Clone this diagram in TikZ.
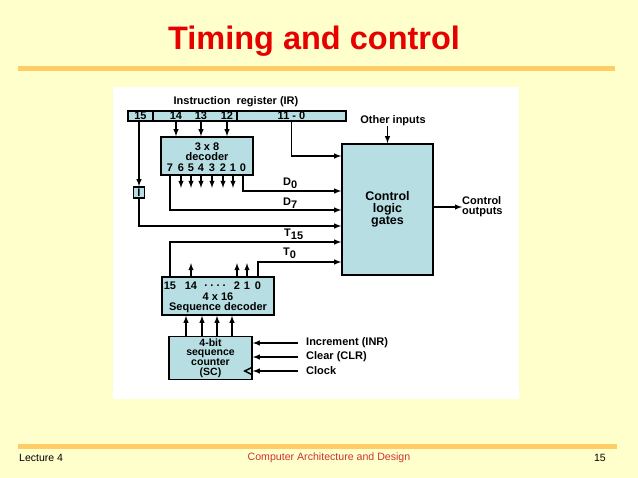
\documentclass[tikz,border=0pt]{standalone}
\usepackage{fontspec}
\setmainfont{Liberation Sans}
\usetikzlibrary{positioning,arrows}
\definecolor{slideYellow}{RGB}{255,255,204}
\definecolor{barOrange}{RGB}{255,204,102}
\definecolor{boxBlue}{RGB}{183,223,227}
\definecolor{titleRed}{RGB}{230,0,0}
\definecolor{footRed}{RGB}{204,51,51}

\begin{document}
\begin{tikzpicture}[x=1pt,y=-1pt,>=latex,
    blk/.style={draw,line width=1.6pt,fill=boxBlue,inner sep=0pt},
    txt/.style={font=\bfseries\fontsize{11}{10.3}\selectfont,inner sep=0pt,align=center},
    wire/.style={line width=1.4pt}]
    \useasboundingbox[fill=slideYellow] (0,0) rectangle (638,478);
    \fill[white] (113,87) rectangle (519,399);

    % slide title and footer
    \node[font=\bfseries\fontsize{32.5}{32}\selectfont,text=titleRed] (title) at (314,41) {Timing and control};
    \draw[barOrange,line width=5pt] (18,69) -- (615,69);
    \draw[barOrange,line width=5pt] (18,447) -- (617,447);
    \node[anchor=west,font=\fontsize{10.5}{10}\selectfont,inner sep=0pt] (lecture) at (19,458) {Lecture 4};
    \node[font=\fontsize{10.6}{10}\selectfont,text=footRed,inner sep=0pt] (course) at (329,458) {Computer Architecture and Design};
    \node[anchor=east,font=\fontsize{10.5}{10}\selectfont,inner sep=0pt] (page) at (606,458) {15};

    % instruction register
    \node[txt] (irlabel) at (236,102) {Instruction\ \ register (IR)};
    \node[blk,txt,minimum width=25pt,minimum height=10pt] (ir15) at (140.5,116) {15};
    \node[blk,minimum width=84pt,minimum height=10pt] (ir1412) at (195,116) {};
    \node[blk,txt,minimum width=109pt,minimum height=10pt] (ir110) at (291.5,116) {11 - 0};
    \foreach \x/\b in {176/14,201/13,227/12}
        \node[txt] (b\b) at (\x,116) {\b};

    % 3 x 8 decoder
    \node[blk,minimum width=92pt,minimum height=38pt] (dec) at (207,156) {};
    \node[txt] (decname) at (207,152) {3 x 8\\decoder};
    \foreach \x/\d in {170/7,181/6,191/5,201/4,212/3,223/2,233/1,243/0}
        \node[txt] (d\d) at (\x,168) {\d};
    \foreach \b in {14,13,12}
        \draw[wire,->] (ir1412.south -| b\b) -- (dec.north -| b\b);
    \foreach \d in {6,5,4,3,2,1}
        \draw[wire,->] (dec.south -| d\d) -- ++(0,12);

    % control logic
    \node[blk,txt,font=\bfseries\fontsize{12.5}{12}\selectfont,minimum width=91pt,minimum height=131pt] (ctl) at (387.5,209.5) {Control\\logic\\gates};
    \node[txt] (other) at (393,121) {Other inputs};
    \draw[wire,->] (other.south -| ctl) -- (ctl.north);
    \node[txt,anchor=west,align=left] (outs) at (462,207) {Control\\outputs};
    \draw[wire,->] (ctl.east |- outs) -- (outs.west);

    \coordinate (rowIR) at (0,156);
    \coordinate (rowD0) at (0,191);
    \coordinate (rowD7) at (0,210);
    \coordinate (rowI) at (0,226);
    \coordinate (rowT15) at (0,242);
    \coordinate (rowT0) at (0,262);

    \node[blk,txt,minimum width=11pt,minimum height=11pt] (ibox) at (139,192.5) {I};
    \draw[wire,->] (ir15.south -| ibox) -- (ibox.north);
    \draw[wire,->] (ibox.south) |- (ctl.west |- rowI);
    \draw[wire,->] (ir110.south) |- (ctl.west |- rowIR);
    \draw[wire,->] (dec.south -| d0) |- (ctl.west |- rowD0);
    \draw[wire,->] (dec.south -| d7) |- (ctl.west |- rowD7);

    \node[txt,anchor=base west] (labD0) at (283,186) {D\raisebox{-3pt}{0}};
    \node[txt,anchor=base west] (labD7) at (283,206) {D\raisebox{-3pt}{7}};
    \node[txt,anchor=base west] (labT15) at (284,237) {T\raisebox{-3pt}{15}};
    \node[txt,anchor=base west] (labT0) at (283,256) {T\raisebox{-3pt}{0}};

    % 4 x 16 sequence decoder
    \node[blk,minimum width=112pt,minimum height=38pt] (sd) at (218,296) {};
    \foreach \x/\t in {170/15,191/14,237/2,247/1,258/0}
        \node[txt] (s\t) at (\x,286) {\t};
    \node[txt] (sdots) at (215,286) {.\ .\ .\ .};
    \node[txt] (sdname) at (218,302.5) {4 x 16\\Sequence decoder};
    \foreach \t in {14,2,1}
        \draw[wire,->] (sd.north -| s\t) -- ++(0,-13);
    \draw[wire,->] (sd.north -| s15) |- (ctl.west |- rowT15);
    \draw[wire,->] (sd.north -| s0) |- (ctl.west |- rowT0);

    % sequence counter
    \node[blk,txt,font=\bfseries\fontsize{10.5}{9.6}\selectfont,minimum width=83pt,minimum height=43pt] (sc) at (210.5,358) {4-bit\\sequence\\counter\\(SC)};
    \foreach \x in {186,202,217,232} {
        \coordinate (q\x) at (\x,0);
        \draw[wire,->] (sc.north -| q\x) -- (sd.south -| q\x);
    }
    \node[txt,anchor=west] (inr) at (306,343) {Increment (INR)};
    \node[txt,anchor=west] (clr) at (306,357) {Clear (CLR)};
    \node[txt,anchor=west] (clk) at (306,371) {Clock};
    \foreach \n in {inr,clr,clk}
        \draw[wire,->] ([xshift=-8pt]\n.west) -- (sc.east |- \n);
    \coordinate (clkin) at (sc.east |- clk);
    \draw[wire] (clkin) ++(0,-4) -- ++(-8,4) -- ++(8,4);
\end{tikzpicture}
\end{document}
